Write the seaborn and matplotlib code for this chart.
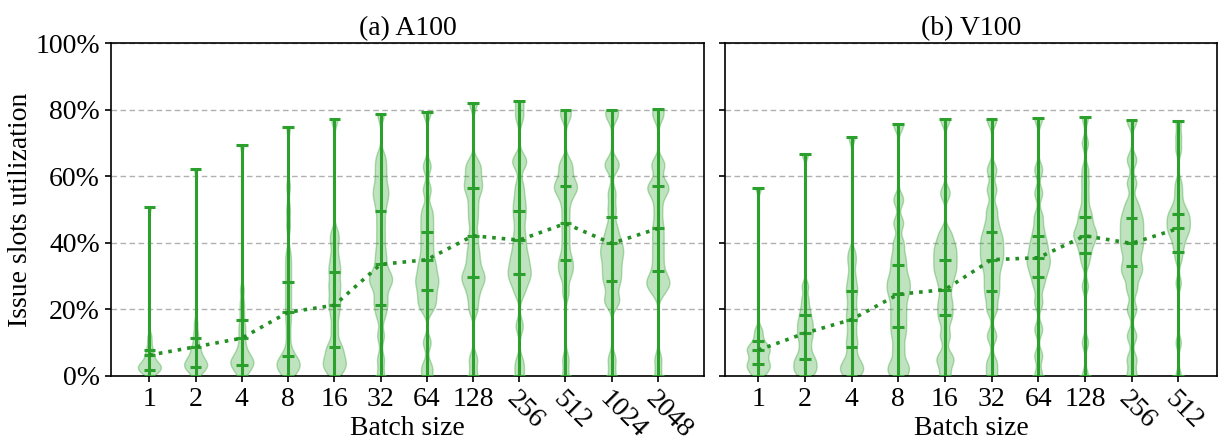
import numpy as np
import pandas as pd
import matplotlib
matplotlib.use("Agg")
import matplotlib.pyplot as plt
import matplotlib.colors as mcolors
from matplotlib.ticker import PercentFormatter
import seaborn as sns

# ---------------- data (utilization, %) ----------------
A100_BATCH = ["1", "2", "4", "8", "16", "32", "64", "128", "256", "512", "1024", "2048"]
V100_BATCH = ["1", "2", "4", "8", "16", "32", "64", "128", "256", "512"]

# estimated per-kernel samples (shape of each violin)
A100_SAMPLES = [
    [0, 1, 1, 2, 2, 2, 3, 3, 3, 4, 4, 5, 6, 7, 8, 10, 12, 50.9],
    [0, 1, 2, 2, 3, 3, 3, 4, 4, 5, 5, 6, 7, 8, 9, 11, 13, 16, 62.3],
    [0, 1, 2, 3, 3, 4, 4, 5, 5, 6, 7, 8, 10, 12, 14, 16, 19, 22, 26, 69.3],
    [0, 1, 2, 3, 3, 4, 4, 5, 6, 8, 12, 16, 19, 22, 25, 28, 31, 34, 37, 45, 50, 57, 74.8],
    [0, 2, 3, 4, 5, 7, 8, 10, 14, 18, 21, 23, 26, 28, 31, 33, 36, 40, 43, 77.1],
    [0, 5, 12, 18, 21, 23, 26, 28, 29, 30, 32, 35, 38, 42, 46, 50, 53, 55, 57, 60, 63, 66, 78.8],
    [0, 3, 10, 20, 22, 24, 26, 28, 29, 31, 33, 35, 38, 41, 44, 47, 50, 56, 63, 79.4],
    [0, 5, 20, 24, 27, 29, 30, 32, 35, 38, 42, 47, 51, 55, 57, 59, 62, 64, 82.2],
    [0, 4, 15, 25, 28, 30, 31, 33, 35, 37, 40, 43, 47, 50, 53, 57, 64, 65, 78, 82.6],
    [0, 5, 25, 30, 32, 34, 36, 40, 44, 48, 52, 55, 56, 57, 58, 60, 63, 64, 78, 79.9],
    [0, 5, 22, 23, 27, 29, 31, 33, 35, 37, 38, 40, 42, 45, 50, 55, 63, 64, 78, 80.1],
    [0, 5, 25, 27, 28, 29, 31, 34, 37, 40, 43, 46, 50, 54, 56, 57, 58, 63, 64, 78, 80.2],
]
V100_SAMPLES = [
    [0, 1, 2, 3, 3, 4, 5, 6, 7, 8, 8, 9, 10, 12, 14, 56.5],
    [0, 1, 2, 3, 4, 5, 6, 8, 10, 12, 13, 15, 16, 18, 20, 23, 27, 66.8],
    [0, 1, 2, 3, 4, 6, 9, 11, 14, 17, 19, 22, 25, 27, 30, 34, 37, 71.8],
    [0, 2, 4, 8, 12, 15, 18, 21, 24, 26, 28, 30, 33, 36, 40, 46, 53, 75.6],
    [0, 4, 6, 12, 17, 20, 23, 27, 30, 32, 34, 36, 38, 40, 43, 55, 77.3],
    [0, 4, 12, 20, 24, 27, 30, 33, 35, 37, 39, 41, 43, 46, 50, 56, 62, 77.1],
    [0, 6, 14, 22, 27, 30, 32, 34, 35, 37, 39, 41, 44, 48, 55, 62, 77.6],
    [0, 10, 27, 34, 37, 39, 41, 42, 43, 44, 46, 48, 50, 54, 58, 62, 70, 77.8],
    [0, 5, 12, 20, 26, 30, 32, 34, 37, 39, 41, 43, 45, 47, 49, 52, 58, 65, 76.8],
    [0, 10, 28, 35, 38, 40, 42, 43, 44, 45, 46, 47, 48, 49, 50, 52, 55, 58, 68, 72, 76.5],
]

# summary marks
A100_Q1 = [1.7, 2.5, 3.1, 5.8, 8.6, 21.3, 25.9, 29.8, 30.7, 34.9, 28.5, 31.5]
A100_MEAN = [6.2, 8.7, 11.3, 19.1, 21.2, 33.5, 34.9, 42.1, 40.8, 45.8, 39.8, 44.3]
A100_Q3 = [7.8, 11.3, 16.9, 28.1, 31.3, 49.6, 43.1, 56.4, 49.5, 57.0, 47.9, 57.0]

V100_Q1 = [3.4, 5.1, 8.5, 14.6, 18.3, 25.6, 29.8, 36.8, 33.0, 37.2]
V100_MEAN = [7.7, 12.8, 16.9, 24.5, 25.9, 34.9, 35.5, 42.1, 39.8, 44.3]
V100_Q3 = [10.3, 18.3, 25.6, 33.4, 34.9, 43.3, 42.1, 47.8, 47.4, 48.8]

TITLES = ["(a) A100", "(b) V100"]
XLABEL = "Batch size"
YLABEL = "Issue slots utilization"

# ---------------- style ----------------
GREEN = "#2ca02c"
DARK = "#248f24"
FS = 20
sns.set_style("ticks")
plt.rcParams["font.family"] = ["Liberation Serif", "DejaVu Serif"]
plt.rcParams["font.size"] = FS
plt.rcParams["axes.linewidth"] = 1.2
for key in ("text.color", "axes.labelcolor", "xtick.color", "ytick.color",
            "axes.edgecolor"):
    plt.rcParams[key] = "black"

fig = plt.figure(figsize=(12.19, 4.43), dpi=100)
ax1 = fig.add_axes([0.0911, 0.1519, 0.4865, 0.7502])
ax2 = fig.add_axes([0.5947, 0.1519, 0.4040, 0.7502], sharey=ax1)

rgb = mcolors.to_rgb(GREEN)


def draw(ax, batches, samples, q1, mean, q3, title, xlim):
    rows = [(b, v) for b, s in zip(batches, samples) for v in s]
    df = pd.DataFrame(rows, columns=["batch", "util"])
    sns.violinplot(data=df, x="batch", y="util", order=batches, ax=ax,
                   inner=None, cut=0, density_norm="width", width=0.5,
                   bw_method=0.1, color=GREEN, saturation=1, linewidth=1)
    for c in ax.collections:
        c.set_facecolor((*rgb, 0.3))
        c.set_edgecolor((*rgb, 0.35))
        c.set_zorder(2)
    pos = np.arange(len(batches))
    vmin = [min(s) for s in samples]
    vmax = [max(s) for s in samples]
    ax.vlines(pos, vmin, vmax, color=GREEN, lw=2.2, zorder=3)
    hw = 0.125
    for vals in (vmin, vmax, q1, mean, q3):
        ax.hlines(vals, pos - hw, pos + hw, color=GREEN, lw=2.2, zorder=3)
    sns.lineplot(x=pos, y=mean, ax=ax, color=DARK, linestyle=":", lw=2.6,
                 zorder=5)
    ax.set_ylim(0, 100)
    ax.set_xlim(*xlim)
    ax.set_yticks([0, 20, 40, 60, 80, 100])
    ax.yaxis.set_major_formatter(PercentFormatter(decimals=0))
    ax.set_xticks(pos)
    ax.set_xticklabels(batches)
    for i, lab in enumerate(ax.get_xticklabels()):
        if i >= 8:
            lab.set_rotation(-45)
            lab.set_ha("left")
            lab.set_va("top")
            lab.set_rotation_mode("anchor")
    ax.yaxis.grid(True, linestyle=(0, (4, 2.5)), color="#b0b0b0", lw=1)
    ax.set_axisbelow(True)
    ax.tick_params(direction="out", length=4, width=1.2, pad=4, labelsize=FS,
                   color="black", labelcolor="black")
    for sp in ax.spines.values():
        sp.set_color("black")
    ax.set_title(title, fontsize=FS, pad=6, color="black")
    ax.set_xlabel(XLABEL, fontsize=FS, color="black")
    ax.xaxis.set_label_coords(0.5, -0.12)
    ax.set_ylabel("")


draw(ax1, A100_BATCH, A100_SAMPLES, A100_Q1, A100_MEAN, A100_Q3, TITLES[0], (-0.83, 12.0))
draw(ax2, V100_BATCH, V100_SAMPLES, V100_Q1, V100_MEAN, V100_Q3, TITLES[1], (-0.714, 9.84))
ax1.set_ylabel(YLABEL, fontsize=FS, labelpad=2, color="black")
ax2.tick_params(labelleft=False)

fig.savefig("out.png", dpi=100)
